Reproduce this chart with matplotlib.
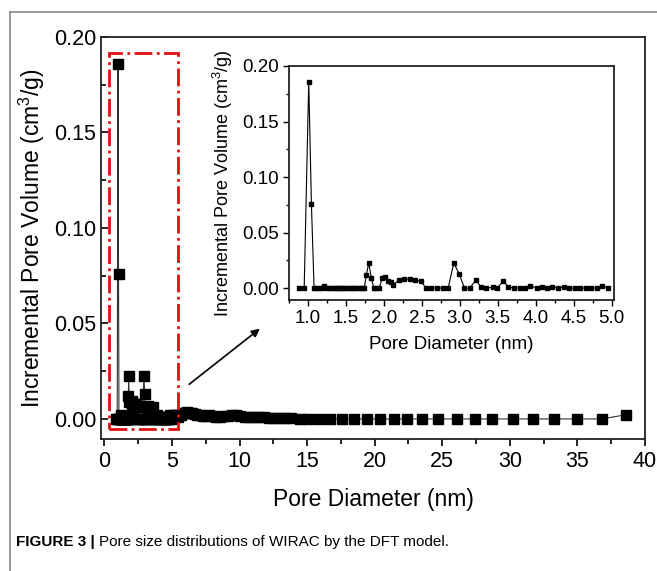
import numpy as np
import matplotlib
matplotlib.use("Agg")
import matplotlib.pyplot as plt
from matplotlib.patches import Rectangle
from matplotlib.lines import Line2D
from matplotlib.ticker import MultipleLocator

plt.rcParams['font.family'] = ['Liberation Sans', 'DejaVu Sans']
plt.rcParams['mathtext.fontset'] = 'custom'
plt.rcParams['mathtext.rm'] = 'Liberation Sans'

# pore diameter (nm) / incremental pore volume (cm3/g), 0.9-5 nm part (shown in inset)
pore_d = [0.88, 0.95, 1.01, 1.045, 1.08, 1.11, 1.15, 1.18, 1.21, 1.25, 1.28, 1.31,
          1.35, 1.38, 1.41, 1.45, 1.48, 1.51, 1.55, 1.58, 1.61, 1.65, 1.68, 1.71,
          1.74, 1.77, 1.80, 1.835, 1.866, 1.90, 1.936, 1.98, 2.02, 2.055, 2.09, 2.125,
          2.195, 2.266, 2.345, 2.415, 2.486, 2.556, 2.626, 2.70, 2.776, 2.846, 2.92,
          2.99, 3.06, 3.13, 3.21, 3.28, 3.35, 3.43, 3.49, 3.57, 3.64, 3.71, 3.79,
          3.86, 3.93, 4.01, 4.08, 4.15, 4.22, 4.29, 4.37, 4.44, 4.51, 4.58, 4.66,
          4.73, 4.80, 4.87, 4.95]
pore_v = [0, 0, 0.186, 0.076, 0, 0, 0, 0, 0.002, 0, 0, 0,
          0, 0, 0, 0, 0, 0, 0, 0, 0, 0, 0, 0,
          0, 0.012, 0.0225, 0.009, 0, 0, 0, 0.009, 0.0095, 0.006, 0.005, 0.003,
          0.007, 0.008, 0.008, 0.007, 0.006, 0, 0, 0, 0, 0, 0.0225,
          0.013, 0, 0, 0.007, 0.001, 0, 0.0005, 0, 0.006, 0.001, 0, 0,
          0, 0.002, 0, 0.001, 0, 0.001, 0, 0.001, 0, 0, 0, 0,
          0, 0, 0.002, 0]

# rest of the distribution (only in main plot)
tail_d = [5.03, 5.12, 5.22, 5.32, 5.43, 5.55, 5.68, 5.82, 5.97, 6.13, 6.30, 6.48,
          6.67, 6.87, 7.08, 7.30, 7.53, 7.77, 8.02, 8.28, 8.55, 8.83, 9.12, 9.42,
          9.73, 10.05, 10.38, 10.72, 11.07, 11.43, 11.80, 12.18, 12.57, 12.97, 13.38,
          13.80, 14.46, 15.1, 15.9, 16.7, 17.6, 18.5, 19.4, 20.4, 21.4, 22.4, 23.5,
          24.7, 26.1, 27.4, 28.7, 30.2, 31.7, 33.3, 35.0, 36.8, 38.6]
tail_v = [0.001, 0.002, 0.001, 0.002, 0.001, 0.002, 0.002, 0.003, 0.003, 0.0035, 0.003, 0.003,
          0.0025, 0.002, 0.002, 0.0015, 0.0015, 0.002, 0.0015, 0.001, 0.001, 0.0015, 0.0015, 0.002,
          0.002, 0.0015, 0.001, 0.001, 0.001, 0.0008, 0.0008, 0.0005, 0.0005, 0.0005, 0.0003,
          0.0003, 0, 0, 0, 0, 0, 0, 0, 0, 0, 0, 0,
          0, 0, 0, 0, 0, 0, 0, 0, 0, 0.0022]

all_d = pore_d + tail_d
all_v = pore_v + tail_v

W, H = 657, 571
fig = plt.figure(figsize=(W / 100, H / 100), dpi=100)

# page frame lines
fig.add_artist(Line2D([10 / W, 1], [1 - 12 / H, 1 - 12 / H], color='#8a8a8a', lw=1.2))
fig.add_artist(Line2D([10 / W, 10 / W], [0, 1 - 12 / H], color='#8a8a8a', lw=1.2))

# main axes
ax = fig.add_axes([101 / W, 1 - 439 / H, (645 - 101) / W, (439 - 37) / H])
ax.plot(all_d, all_v, color='#333333', lw=0.8, marker='s', ms=6.5,
        mfc='black', mec='black', zorder=3)
ax.set_xlim(-0.25, 40)
ax.set_ylim(-0.0105, 0.2)
ax.xaxis.set_major_locator(MultipleLocator(5))
ax.xaxis.set_minor_locator(MultipleLocator(2.5))
ax.yaxis.set_major_locator(MultipleLocator(0.05))
ax.yaxis.set_minor_locator(MultipleLocator(0.025))
ax.yaxis.set_major_formatter(matplotlib.ticker.FormatStrFormatter('%.2f'))
ax.tick_params(axis='x', which='both', direction='out', labelsize=15.5, width=1.2)
ax.tick_params(axis='x', which='major', length=5)
ax.tick_params(axis='x', which='minor', length=3.5)
ax.tick_params(axis='y', which='both', direction='in', labelsize=15.5, width=1.2)
ax.tick_params(axis='y', which='major', length=5)
ax.tick_params(axis='y', which='minor', length=3.5)
for s in ax.spines.values():
    s.set_linewidth(1.3)
    s.set_color('#222222')
ax.set_xlabel('Pore Diameter (nm)', fontsize=16.5, labelpad=12)
ax.set_ylabel(r'Incremental Pore Volume (cm$^\mathrm{3}$/g)', fontsize=16.5, labelpad=5)

# red selection box
ax.add_patch(Rectangle((0.34, -0.0052), 5.1, 0.197, fill=False, ec='#e01010',
                       lw=2, ls='-.', zorder=4))

# arrow from box to inset
fig.add_artist(matplotlib.patches.FancyArrowPatch(
    (187 / W, 1 - 386 / H), (262 / W, 1 - 327 / H), transform=fig.transFigure,
    arrowstyle='-|>', mutation_scale=12, color='black', lw=1.2))

# inset
ins = fig.add_axes([289 / W, 1 - 300 / H, (614 - 289) / W, (300 - 66) / H])
ins.plot(pore_d, pore_v, color='black', lw=0.8, marker='s', ms=3,
         mfc='black', mec='black')
ins.set_xlim(0.75, 5.03)
ins.set_ylim(-0.0108, 0.2)
ins.xaxis.set_major_locator(MultipleLocator(0.5))
ins.xaxis.set_minor_locator(MultipleLocator(0.25))
ins.yaxis.set_major_locator(MultipleLocator(0.05))
ins.yaxis.set_minor_locator(MultipleLocator(0.025))
ins.yaxis.set_major_formatter(matplotlib.ticker.FormatStrFormatter('%.2f'))
ins.tick_params(which='both', direction='out', labelsize=13.5, width=1)
ins.tick_params(which='major', length=4)
ins.tick_params(which='minor', length=2.5)
for s in ins.spines.values():
    s.set_linewidth(1.3)
    s.set_color('#222222')
ins.set_xlabel('Pore Diameter (nm)', fontsize=13.5, labelpad=6)
ins.set_ylabel(r'Incremental Pore Volume (cm$^\mathrm{3}$/g)', fontsize=13, labelpad=5)

# caption
cap_font = ['Liberation Sans Narrow', 'Liberation Sans', 'DejaVu Sans']
t1 = fig.text(16 / W, 1 - 542 / H, 'FIGURE 3 |', fontsize=11, fontweight='bold',
              family=cap_font, va='center', ha='left')
fig.canvas.draw()
bb = t1.get_window_extent()
fig.text(bb.x1 / W + 4 / W, 1 - 542 / H, 'Pore size distributions of WIRAC by the DFT model.',
         fontsize=11, family=cap_font, va='center', ha='left')

fig.savefig('out.png', dpi=100)
